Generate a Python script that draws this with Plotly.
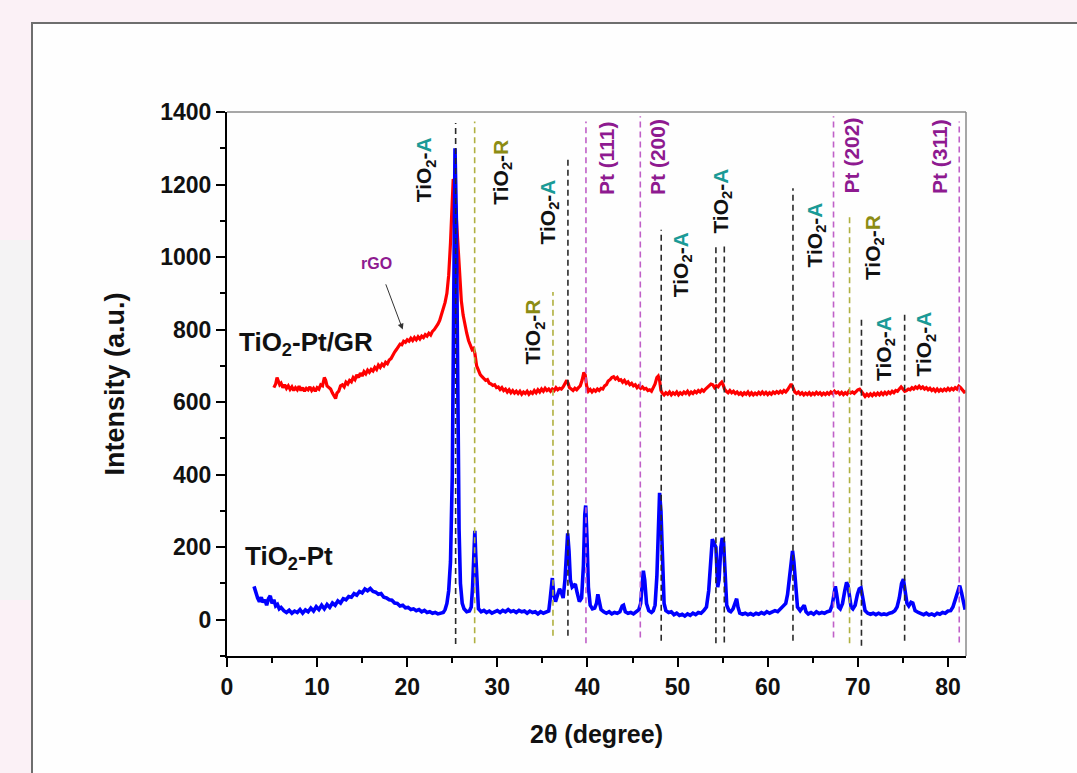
import plotly.graph_objects as go

# ---------------- data ----------------
# TiO2-Pt (blue)
tth_pt = [
    3.0, 3.2, 3.4, 3.6, 3.8, 4.0, 4.2, 4.4, 4.6, 4.8,
    5.0, 5.2, 5.4, 5.6, 5.8, 6.0, 6.3, 6.6, 6.9, 7.2,
    7.5, 7.8, 8.1, 8.4, 8.7, 9.0, 9.3, 9.6, 9.9, 10.2,
    10.5, 10.8, 11.1, 11.4, 11.7, 12.0, 12.3, 12.6, 12.9, 13.2,
    13.5, 13.8, 14.1, 14.4, 14.7, 15.0, 15.3, 15.6, 15.9, 16.2,
    16.5, 16.8, 17.1, 17.4, 17.7, 18.0, 18.3, 18.6, 18.9, 19.2,
    19.5, 19.8, 20.1, 20.4, 20.7, 21.0, 21.3, 21.6, 21.9, 22.2,
    22.5, 22.8, 23.1, 23.4, 23.7, 24.0, 24.2, 24.4, 24.6, 24.8,
    25.0, 25.15, 25.3, 25.45, 25.6, 25.75, 25.9, 26.1, 26.3, 26.6,
    26.9, 27.1, 27.25, 27.4, 27.5, 27.6, 27.75, 27.9, 28.2, 28.5,
    28.8, 29.1, 29.4, 29.7, 30.0, 30.3, 30.6, 30.9, 31.2, 31.5,
    31.8, 32.1, 32.4, 32.7, 33.0, 33.3, 33.6, 33.9, 34.2, 34.5,
    34.8, 35.1, 35.4, 35.7, 35.85, 36.0, 36.1, 36.25, 36.45, 36.7,
    36.9, 37.1, 37.3, 37.5, 37.65, 37.8, 37.95, 38.1, 38.3, 38.5,
    38.65, 38.85, 39.1, 39.35, 39.55, 39.7, 39.8, 39.95, 40.1, 40.3,
    40.55, 40.8, 41.0, 41.15, 41.3, 41.5, 41.8, 42.1, 42.4, 42.7,
    43.0, 43.3, 43.6, 43.85, 44.0, 44.2, 44.5, 44.8, 45.1, 45.4,
    45.7, 45.9, 46.05, 46.2, 46.35, 46.55, 46.8, 47.1, 47.3, 47.5,
    47.7, 47.85, 48.0, 48.15, 48.3, 48.5, 48.7, 49.0, 49.3, 49.6,
    49.9, 50.2, 50.5, 50.8, 51.1, 51.4, 51.7, 52.0, 52.3, 52.6,
    52.9, 53.2, 53.45, 53.65, 53.85, 54.05, 54.25, 54.45, 54.6, 54.8,
    54.95, 55.1, 55.25, 55.45, 55.7, 55.9, 56.15, 56.4, 56.55, 56.7,
    56.9, 57.2, 57.5, 57.8, 58.1, 58.4, 58.7, 59.0, 59.3, 59.6,
    59.9, 60.2, 60.5, 60.8, 61.1, 61.4, 61.7, 62.0, 62.2, 62.4,
    62.6, 62.75, 62.9, 63.1, 63.3, 63.6, 63.85, 64.05, 64.25, 64.5,
    64.8, 65.1, 65.4, 65.7, 66.0, 66.3, 66.6, 66.9, 67.15, 67.35,
    67.5, 67.65, 67.85, 68.05, 68.3, 68.55, 68.75, 68.9, 69.05, 69.25,
    69.45, 69.7, 69.95, 70.15, 70.35, 70.55, 70.8, 71.1, 71.4, 71.7,
    72.0, 72.3, 72.6, 72.9, 73.2, 73.5, 73.8, 74.1, 74.35, 74.6,
    74.85, 75.05, 75.25, 75.45, 75.65, 75.9, 76.1, 76.35, 76.7, 77.0,
    77.3, 77.6, 77.9, 78.2, 78.5, 78.8, 79.1, 79.4, 79.7, 80.0,
    80.3, 80.55, 80.8, 81.05, 81.3, 81.5, 81.7, 81.9,
]
int_pt = [
    92, 75, 60, 50, 62, 48, 55, 40, 58, 66,
    45, 55, 38, 42, 30, 34, 25, 20, 26, 18,
    24, 20, 28, 18, 27, 22, 32, 24, 36, 28,
    40, 30, 42, 34, 46, 40, 52, 46, 58, 55,
    64, 62, 72, 68, 78, 74, 85, 80, 86, 78,
    76, 70, 72, 62, 60, 55, 54, 46, 45, 38,
    40, 33, 34, 28, 30, 25, 28, 22, 26, 20,
    22, 18, 20, 16, 18, 20, 28, 45, 80, 160,
    400, 900, 1300, 1100, 600, 250, 100, 45, 30, 22,
    24, 35, 90, 230, 245, 180, 70, 30, 22, 26,
    20, 24, 18, 22, 25, 20, 26, 22, 28, 22,
    25, 20, 26, 22, 24, 18, 24, 20, 22, 16,
    22, 18, 20, 24, 55, 110, 115, 70, 50, 70,
    85, 75, 60, 110, 200, 238, 190, 110, 90, 95,
    98, 75, 50, 60, 150, 290, 315, 220, 90, 40,
    30, 32, 45, 70, 50, 28, 22, 18, 22, 16,
    20, 18, 22, 38, 40, 22, 18, 20, 16, 22,
    28, 45, 100, 135, 110, 45, 25, 20, 25, 40,
    120, 260, 350, 300, 150, 45, 25, 20, 22, 14,
    18, 12, 15, 10, 16, 12, 18, 14, 20, 18,
    25, 35, 80, 170, 222, 210, 200, 90, 110, 200,
    225, 215, 120, 40, 25, 22, 30, 45, 58, 35,
    18, 15, 18, 14, 17, 13, 18, 15, 20, 16,
    22, 18, 22, 25, 22, 30, 35, 45, 70, 120,
    170, 190, 160, 80, 35, 25, 35, 40, 22, 16,
    20, 15, 22, 17, 20, 18, 22, 24, 40, 80,
    92, 70, 35, 30, 45, 80, 103, 95, 60, 35,
    30, 40, 70, 85, 88, 55, 25, 18, 15, 18,
    14, 18, 14, 16, 14, 18, 20, 25, 35, 60,
    100, 112, 85, 45, 38, 48, 46, 25, 20, 16,
    14, 18, 13, 16, 12, 18, 15, 20, 18, 24,
    25, 35, 55, 80, 94, 75, 45, 28,
]

# TiO2-Pt/GR (red)
tth_gr = [
    5.2, 5.4, 5.55, 5.7, 5.85, 6.0, 6.2, 6.4, 6.6, 6.8,
    7.0, 7.2, 7.4, 7.6, 7.8, 8.0, 8.2, 8.4, 8.6, 8.8,
    9.0, 9.2, 9.4, 9.6, 9.8, 10.0, 10.2, 10.4, 10.6, 10.8,
    10.95, 11.1, 11.3, 11.5, 11.7, 11.9, 12.05, 12.2, 12.4, 12.6,
    12.8, 13.0, 13.2, 13.4, 13.6, 13.8, 14.0, 14.2, 14.4, 14.6,
    14.8, 15.0, 15.2, 15.4, 15.6, 15.8, 16.0, 16.2, 16.4, 16.6,
    16.8, 17.0, 17.2, 17.4, 17.6, 17.8, 18.0, 18.2, 18.4, 18.6,
    18.8, 19.0, 19.2, 19.4, 19.6, 19.8, 20.0, 20.2, 20.4, 20.6,
    20.8, 21.0, 21.2, 21.4, 21.6, 21.8, 22.0, 22.2, 22.4, 22.6,
    22.8, 23.0, 23.2, 23.4, 23.6, 23.8, 24.0, 24.2, 24.4, 24.6,
    24.8, 24.95, 25.1, 25.2, 25.35, 25.5, 25.65, 25.8, 26.0, 26.2,
    26.4, 26.6, 26.8, 27.0, 27.2, 27.35, 27.5, 27.7, 27.9, 28.1,
    28.3, 28.5, 28.7, 28.9, 29.1, 29.3, 29.5, 29.7, 29.9, 30.1,
    30.3, 30.5, 30.7, 30.9, 31.1, 31.3, 31.5, 31.7, 31.9, 32.1,
    32.3, 32.5, 32.7, 32.9, 33.1, 33.3, 33.5, 33.7, 33.9, 34.1,
    34.3, 34.5, 34.7, 34.9, 35.1, 35.3, 35.5, 35.7, 35.9, 36.1,
    36.3, 36.5, 36.7, 36.9, 37.1, 37.3, 37.5, 37.7, 37.85, 38.0,
    38.2, 38.4, 38.6, 38.8, 39.0, 39.2, 39.4, 39.6, 39.75, 39.9,
    40.1, 40.3, 40.5, 40.7, 40.9, 41.1, 41.3, 41.5, 41.7, 41.9,
    42.1, 42.3, 42.5, 42.7, 42.9, 43.1, 43.3, 43.5, 43.7, 43.9,
    44.1, 44.3, 44.5, 44.7, 44.9, 45.1, 45.3, 45.5, 45.7, 45.9,
    46.1, 46.3, 46.5, 46.7, 46.9, 47.1, 47.3, 47.5, 47.7, 47.85,
    48.0, 48.15, 48.3, 48.5, 48.7, 48.9, 49.1, 49.3, 49.5, 49.7,
    49.9, 50.1, 50.3, 50.5, 50.7, 50.9, 51.1, 51.3, 51.5, 51.7,
    51.9, 52.1, 52.3, 52.5, 52.7, 52.9, 53.1, 53.3, 53.5, 53.7,
    53.9, 54.1, 54.3, 54.5, 54.7, 54.9, 55.05, 55.2, 55.4, 55.6,
    55.8, 56.0, 56.2, 56.4, 56.6, 56.8, 57.0, 57.2, 57.4, 57.6,
    57.8, 58.0, 58.2, 58.4, 58.6, 58.8, 59.0, 59.2, 59.4, 59.6,
    59.8, 60.0, 60.2, 60.4, 60.6, 60.8, 61.0, 61.2, 61.4, 61.6,
    61.8, 62.0, 62.2, 62.4, 62.6, 62.8, 63.0, 63.2, 63.4, 63.6,
    63.8, 64.0, 64.2, 64.4, 64.6, 64.8, 65.0, 65.2, 65.4, 65.6,
    65.8, 66.0, 66.2, 66.4, 66.6, 66.8, 67.0, 67.2, 67.4, 67.6,
    67.8, 68.0, 68.2, 68.4, 68.6, 68.8, 69.0, 69.2, 69.4, 69.6,
    69.8, 70.0, 70.2, 70.4, 70.6, 70.8, 71.0, 71.2, 71.4, 71.6,
    71.8, 72.0, 72.2, 72.4, 72.6, 72.8, 73.0, 73.2, 73.4, 73.6,
    73.8, 74.0, 74.2, 74.4, 74.6, 74.8, 75.0, 75.2, 75.4, 75.6,
    75.8, 76.0, 76.2, 76.4, 76.6, 76.8, 77.0, 77.2, 77.4, 77.6,
    77.8, 78.0, 78.2, 78.4, 78.6, 78.8, 79.0, 79.2, 79.4, 79.6,
    79.8, 80.0, 80.2, 80.4, 80.6, 80.8, 81.0, 81.2, 81.4, 81.6,
    81.8, 82.0,
]
int_gr = [
    640, 650, 668, 660, 648, 652, 640, 648, 638, 645,
    635, 642, 632, 640, 634, 644, 632, 640, 630, 638,
    634, 642, 632, 638, 630, 640, 636, 648, 645, 668,
    660, 645, 640, 636, 625, 615, 610, 625, 630, 645,
    648, 642, 655, 650, 660, 656, 668, 662, 675, 668,
    680, 672, 684, 678, 688, 682, 690, 686, 696, 690,
    702, 696, 705, 700, 710, 706, 716, 720, 730, 738,
    745, 752, 760, 758, 768, 765, 772, 768, 776, 770,
    778, 772, 780, 774, 782, 778, 786, 782, 790, 785,
    795, 800, 806, 815, 825, 840, 855, 875, 900, 950,
    1040, 1130, 1215, 1210, 1150, 1080, 1000, 935, 880, 840,
    810, 790, 770, 755, 745, 748, 735, 700, 685, 676,
    670, 666, 660, 662, 652, 650, 646, 648, 640, 642,
    635, 640, 632, 636, 628, 634, 626, 632, 625, 630,
    624, 630, 622, 628, 624, 630, 622, 628, 624, 632,
    626, 634, 628, 636, 630, 638, 632, 636, 630, 636,
    632, 640, 634, 638, 636, 642, 650, 660, 652, 640,
    636, 632, 638, 634, 640, 645, 660, 682, 675, 645,
    630, 635, 628, 634, 630, 636, 632, 638, 636, 645,
    648, 658, 662, 668, 670, 664, 668, 660, 662, 655,
    660, 652, 656, 648, 652, 645, 648, 640, 645, 638,
    642, 636, 638, 632, 634, 630, 640, 650, 668, 672,
    660, 632, 625, 620, 626, 622, 628, 620, 626, 622,
    628, 620, 626, 622, 628, 624, 630, 622, 628, 624,
    630, 626, 632, 628, 634, 630, 636, 640, 646, 650,
    648, 640, 645, 642, 650, 655, 648, 636, 630, 626,
    632, 626, 630, 624, 628, 622, 626, 620, 626, 622,
    628, 620, 626, 620, 625, 621, 627, 622, 628, 622,
    627, 621, 626, 622, 628, 624, 629, 625, 630, 626,
    632, 628, 634, 642, 650, 640, 628, 624, 628, 622,
    626, 620, 625, 621, 626, 620, 625, 621, 627, 622,
    626, 620, 625, 621, 626, 622, 628, 624, 630, 625,
    628, 622, 627, 621, 626, 622, 630, 625, 628, 624,
    630, 634, 636, 628, 620, 616, 622, 617, 623, 618,
    624, 619, 625, 620, 626, 621, 627, 622, 628, 624,
    630, 626, 632, 630, 636, 642, 636, 630, 632, 636,
    634, 640, 636, 642, 638, 644, 638, 642, 636, 640,
    634, 638, 632, 636, 630, 636, 630, 635, 631, 636,
    632, 638, 633, 638, 634, 640, 636, 644, 640, 632,
    628, 630,
]

# reference (dashed) lines: position, top and bottom of each dashed segment
anatase_pos = [25.37, 37.83, 48.18, 54.25, 55.18, 62.8, 70.4, 75.19]
anatase_top = [1370, 1273, 1075, 1038, 1038, 1190, 832, 849]
anatase_bot = [-67, -44, -58, -65, -63, -58, -72, -58]
rutile_pos = [27.48, 36.17, 69.08]
rutile_top = [1374, 904, 1112]
rutile_bot = [-65, -44, -65]
pt_pos = [39.83, 45.86, 67.3, 81.25]
pt_top = [1374, 1388, 1388, 1374]
pt_bot = [-65, -49, -49, -63]

# peak labels (rotated): kind, x, y
peak_label_kind = ["A", "R", "A", "R", "Pt(111)", "Pt(200)", "A", "A", "A", "Pt(202)", "R", "A", "A", "Pt(311)"]
peak_label_x = [22.0, 30.5, 35.7, 34.1, 42.1, 47.75, 50.5, 54.9, 65.3, 69.3, 71.8, 73.0, 77.5, 79.05]
peak_label_y = [1240, 1235, 1125, 793, 1274, 1277, 978, 1155, 1061, 1279, 1025, 749, 760, 1277]

x_ticks = [0, 10, 20, 30, 40, 50, 60, 70, 80]
y_ticks = [0, 200, 400, 600, 800, 1000, 1200, 1400]

# ---------------- styling ----------------
FONT = "Liberation Sans, Arial, sans-serif"
C_ANA = "#1a9a96"
C_RUT = "#8c8c14"
C_PT = "#8e1a90"
LN_ANA = "#2a2a2a"
LN_RUT = "#b0b040"
LN_PT = "#c060c8"


def seg_xy(pos, top, bot):
    xs, ys = [], []
    for p, t, b in zip(pos, top, bot):
        xs += [p, p, None]
        ys += [b, t, None]
    return xs, ys


fig = go.Figure()
fig.add_trace(go.Scatter(x=tth_gr, y=int_gr, mode="lines",
                         line=dict(color="#ff0000", width=3.2), showlegend=False))
fig.add_trace(go.Scatter(x=tth_pt, y=int_pt, mode="lines",
                         line=dict(color="#0000ff", width=3.6), showlegend=False))

for pos, top, bot, col in [(anatase_pos, anatase_top, anatase_bot, LN_ANA),
                           (rutile_pos, rutile_top, rutile_bot, LN_RUT),
                           (pt_pos, pt_top, pt_bot, LN_PT)]:
    xs, ys = seg_xy(pos, top, bot)
    fig.add_trace(go.Scatter(x=xs, y=ys, mode="lines", connectgaps=False,
                             line=dict(color=col, width=1.6, dash="6px,4px"),
                             showlegend=False, hoverinfo="skip"))

annotations = []
for kind, lx, ly in zip(peak_label_kind, peak_label_x, peak_label_y):
    if kind == "A":
        txt = "TiO<sub>2</sub>-<span style='color:%s'>A</span>" % C_ANA
        col = "#111111"
    elif kind == "R":
        txt = "TiO<sub>2</sub>-<span style='color:%s'>R</span>" % C_RUT
        col = "#111111"
    else:
        txt = "Pt (" + kind[3:-1] + ")"
        col = C_PT
    annotations.append(dict(x=lx, y=ly, xref="x", yref="y", text=txt, showarrow=False,
                            textangle=-90, xanchor="center", yanchor="middle",
                            font=dict(family=FONT, size=21, color=col, weight="bold")))

annotations += [
    dict(x=1.1, y=762, xref="x", yref="y", text="TiO<sub>2</sub>-Pt/GR", showarrow=False,
         xanchor="left", yanchor="middle",
         font=dict(family=FONT, size=26, color="#111111", weight="bold")),
    dict(x=1.8, y=172, xref="x", yref="y", text="TiO<sub>2</sub>-Pt", showarrow=False,
         xanchor="left", yanchor="middle",
         font=dict(family=FONT, size=26, color="#111111", weight="bold")),
    dict(x=16.6, y=981, xref="x", yref="y", text="rGO", showarrow=False,
         xanchor="center", yanchor="middle",
         font=dict(family=FONT, size=16, color=C_PT, weight="bold")),
    dict(x=19.5, y=800, xref="x", yref="y", ax=17.56, ay=929, axref="x", ayref="y",
         text="", showarrow=True, arrowhead=2, arrowsize=1.2, arrowwidth=1,
         arrowcolor="#333333"),
]

shapes = [
    # white panel with grey frame
    dict(type="rect", xref="paper", yref="paper", x0=(32 - 227) / 739, x1=1.3,
         y0=-0.4, y1=(656 - 23) / 544, fillcolor="#fefefe",
         line=dict(color="#6e6e6e", width=2), layer="below"),
    # faint grey shading strip at the far left
    dict(type="rect", xref="paper", yref="paper", x0=-0.32, x1=(31 - 227) / 739,
         y0=(656 - 600) / 544, y1=(656 - 240) / 544, fillcolor="#f4f3f4",
         line=dict(width=0), layer="below"),
    # top and right grey frame of the plot area
    dict(type="line", xref="paper", yref="paper", x0=0, x1=1, y0=1, y1=1,
         line=dict(color="#8a8a8a", width=1.5)),
    dict(type="line", xref="paper", yref="paper", x0=1, x1=1, y0=0, y1=1,
         line=dict(color="#8a8a8a", width=1.5)),
]

axis_common = dict(showline=True, linecolor="#000000", linewidth=2, ticks="outside",
                   ticklen=9, tickwidth=2, tickcolor="#000000", showgrid=False,
                   zeroline=False, mirror=False,
                   tickfont=dict(family=FONT, size=23, color="#111111", weight="bold"))

fig.update_layout(
    width=1077, height=773, autosize=False,
    margin=dict(l=227, r=111, t=112, b=117),
    paper_bgcolor="#fbf1f6", plot_bgcolor="#fefefe",
    showlegend=False,
    xaxis=dict(range=[0, 82], tickmode="array", tickvals=x_ticks,
               minor=dict(dtick=5, tick0=0, ticks="outside", ticklen=5, tickwidth=2,
                          tickcolor="#000000", showgrid=False),
               title=dict(text="2θ (degree)", standoff=27,
                          font=dict(family=FONT, size=25, color="#111111", weight="bold")),
               **axis_common),
    yaxis=dict(range=[-100, 1400], tickmode="array", tickvals=y_ticks,
               minor=dict(dtick=100, tick0=0, ticks="outside", ticklen=5, tickwidth=2,
                          tickcolor="#000000", showgrid=False),
               title=dict(text="Intensity (a.u.)", standoff=28,
                          font=dict(family=FONT, size=27, color="#111111", weight="bold")),
               **axis_common),
    annotations=annotations,
    shapes=shapes,
)

fig.write_html(
    "out.html",
    config={"displayModeBar": False},
    post_script="document.body.style.margin='0';document.body.style.overflow='hidden';"
                "document.body.style.background='#fbf1f6';",
)
